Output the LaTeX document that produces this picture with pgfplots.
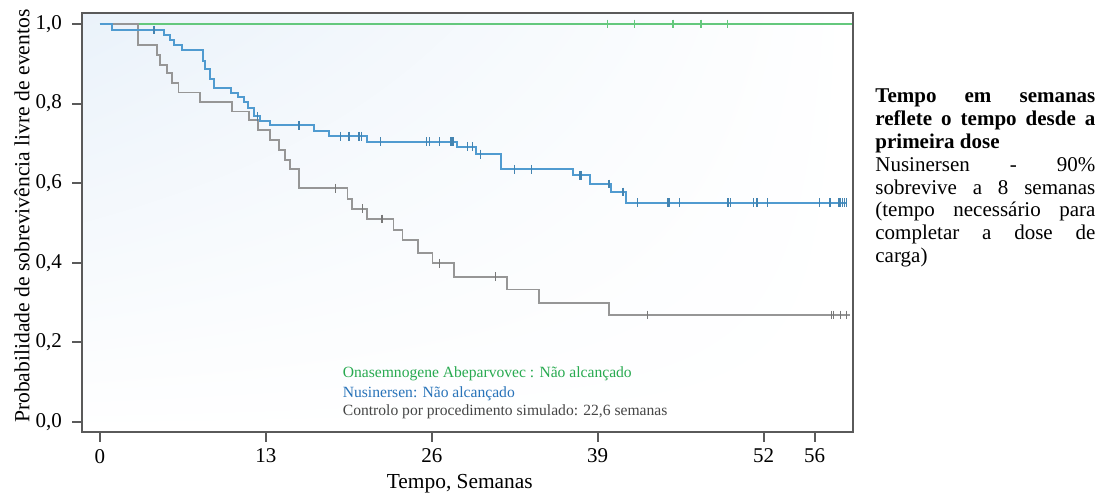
\documentclass[border=0pt]{standalone}
\usepackage{pgfplots}
\pgfplotsset{compat=1.18}
\usepackage{fontspec}
\setmainfont{Liberation Serif}
\usetikzlibrary{shadings}
\definecolor{grn}{RGB}{100,200,125}
\definecolor{grntxt}{RGB}{40,170,80}
\definecolor{blu}{RGB}{80,155,208}
\definecolor{blutxt}{RGB}{40,115,185}
\definecolor{gry}{RGB}{150,150,150}
\definecolor{grytxt}{RGB}{70,70,70}
\definecolor{frame}{RGB}{90,90,90}
\definecolor{haze}{RGB}{234,242,250}

\pgfplotstableread{
x y
0 1.0
58.9 1.0
}\green
\pgfplotstableread{
x y
39.8 1
41.9 1
44.9 1
47.1 1
49.2 1
}\greencens
\pgfplotstableread{
x y
0 1.0
0.92 0.985
4.98 0.972
5.45 0.96
5.8 0.948
6.45 0.935
8.05 0.908
8.25 0.887
8.6 0.862
8.9 0.838
10.3 0.826
10.8 0.816
11.26 0.805
11.6 0.788
12.04 0.768
12.5 0.756
13.35 0.745
16.76 0.732
17.94 0.718
20.95 0.704
28.0 0.692
29.46 0.673
31.4 0.635
37.05 0.62
38.36 0.598
40.06 0.578
41.24 0.551
58.5 0.551
}\blue
\pgfplotstableread{
x y
4.24 0.985
12.36 0.768
15.58 0.745
18.85 0.718
19.5 0.718
20.3 0.718
20.5 0.718
22.0 0.704
25.6 0.704
25.8 0.704
26.6 0.704
27.5 0.704
27.65 0.704
28.8 0.692
29.2 0.692
29.8 0.673
32.5 0.635
33.8 0.635
37.6 0.62
37.75 0.62
39.9 0.598
41.0 0.578
42.1 0.551
44.5 0.551
44.65 0.551
45.4 0.551
49.2 0.551
49.4 0.551
51.2 0.551
51.5 0.551
52.3 0.551
56.4 0.551
57.2 0.551
57.9 0.551
58.05 0.551
58.2 0.551
58.35 0.551
58.5 0.551
}\bluecens
\pgfplotstableread{
x y
0 1.0
2.96 0.947
4.45 0.922
4.71 0.897
5.24 0.876
5.63 0.851
6.15 0.828
7.86 0.803
10.34 0.78
11.65 0.759
12.4 0.734
13.35 0.709
14.0 0.683
14.5 0.658
14.9 0.635
15.6 0.587
19.4 0.56
19.75 0.536
20.95 0.51
23.0 0.482
23.7 0.457
24.9 0.424
26.06 0.399
27.75 0.365
31.9 0.333
34.4 0.298
39.9 0.269
58.8 0.269
}\grey
\pgfplotstableread{
x y
18.46 0.587
20.55 0.536
22.1 0.51
26.6 0.399
31.0 0.365
42.9 0.269
57.3 0.269
57.5 0.269
58.0 0.269
58.5 0.269
}\greycens

\begin{document}
\begin{tikzpicture}
\useasboundingbox (0,0) rectangle (550.5pt,248.5pt);
\begin{axis}[
  at={(41pt,32.5pt)}, anchor=south west,
  scale only axis, width=385.5pt, height=209.5pt,
  xmin=-1.41, xmax=59.01, ymin=-0.0251, ymax=1.0276,
  axis line style={draw=frame, line width=1.1pt},
  axis background/.style={shading=bilinear interpolation,
     upper left=haze, upper right=white, lower left=white, lower right=white},
  xtick={0,13,26,39,52,56},
  ytick={0,0.2,0.4,0.6,0.8,1.0},
  yticklabels={{0,0},{0,2},{0,4},{0,6},{0,8},{1,0}},
  xtick pos=left, ytick pos=left,
  tick align=outside,
  major tick length=5pt,
  tick style={draw=frame, line width=1pt},
  xticklabel style={font=\fontsize{10.5}{12}\selectfont, text=black},
  yticklabel style={font=\fontsize{10.5}{12}\selectfont, text=black, xshift=-1.5pt},
  /pgf/number format/assume math mode=true,
  xlabel={Tempo, Semanas},
  ylabel={Probabilidade de sobrevivência livre de eventos},
  every axis x label/.style={at={(axis description cs:0.49,-0.124)}, anchor=center, font=\fontsize{10.7}{12}\selectfont},
  every axis y label/.style={at={(axis description cs:-0.078,0.515)}, anchor=center, rotate=90, font=\fontsize{10.8}{12}\selectfont},
  clip=false,
]
\addplot[const plot, draw=grn, line width=1.1pt] table {\green};
\addplot[only marks, mark=|, mark size=2.2pt, mark options={draw=grn, line width=0.6pt}] table {\greencens};
\addplot[const plot, draw=gry, line width=0.9pt] table {\grey};
\addplot[only marks, mark=|, mark size=2.2pt, mark options={draw=gry!80!black, line width=0.6pt}] table {\greycens};
\addplot[const plot, draw=blu, line width=1pt] table {\blue};
\addplot[only marks, mark=|, mark size=2.2pt, mark options={draw=blu!85!black, line width=0.7pt}] table {\bluecens};

\node[anchor=base west, inner sep=0, text=grntxt, font=\fontsize{7.8}{9}\selectfont] at (axis cs:19.0,0.1106) {Onasemnogene Abeparvovec : Não alcançado};
\node[anchor=base west, inner sep=0, text=blutxt, font=\fontsize{7.8}{9}\selectfont] at (axis cs:19.0,0.0628) {Nusinersen: Não alcançado};
\node[anchor=base west, inner sep=0, text=grytxt, font=\fontsize{7.8}{9}\selectfont] at (axis cs:19.0,0.0176) {Controlo por procedimento simulado: 22,6 semanas};
\end{axis}
\node[anchor=base west, inner sep=0] at (437.5pt,197pt) {\parbox[t]{110pt}{\fontsize{10.5}{11.4}\selectfont
\makebox[\linewidth][s]{\textbf{Tempo em semanas}}\\
\makebox[\linewidth][s]{\textbf{reflete o tempo desde a}}\\
\textbf{primeira dose}\\
\makebox[\linewidth][s]{Nusinersen - 90\%}\\
\makebox[\linewidth][s]{sobrevive a 8 semanas}\\
\makebox[\linewidth][s]{(tempo necessário para}\\
\makebox[\linewidth][s]{completar a dose de}\\
carga)}};
\end{tikzpicture}
\end{document}
